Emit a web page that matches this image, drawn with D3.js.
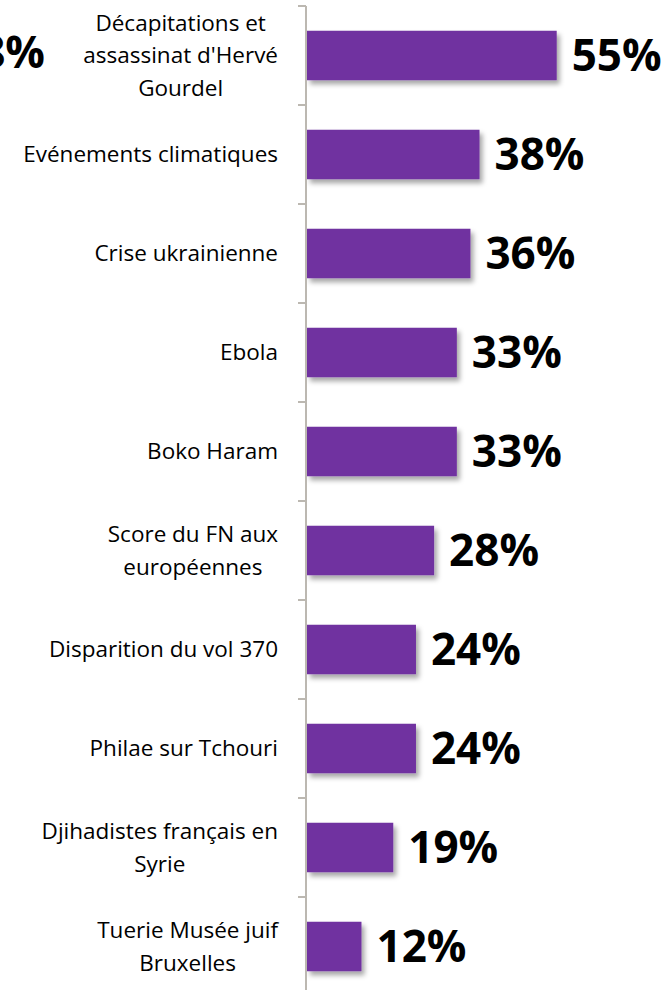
<!DOCTYPE html>
<html>
<head>
<meta charset="utf-8">
<script src="https://cdn.jsdelivr.net/npm/d3@7"></script>
<style>
  body { margin: 0; background: #fff; }
  .cat { font-family: "Open Sans", sans-serif; font-size: 22.5px; fill: #000; }
  .val { font-family: "Open Sans", sans-serif; font-size: 44px; font-weight: bold; fill: #000; }
  .axis-line { stroke: #bcb8b1; stroke-width: 2; }
</style>
</head>
<body>
<svg id="chart" width="670" height="990"></svg>
<script>
const categories = [
  ['Décapitations et', "assassinat d'Hervé", 'Gourdel'],
  ['Evénements climatiques'],
  ['Crise ukrainienne'],
  ['Ebola'],
  ['Boko Haram'],
  ['Score du FN aux', 'européennes'],
  ['Disparition du vol 370'],
  ['Philae sur Tchouri'],
  ['Djihadistes français en', 'Syrie'],
  ['Tuerie Musée juif', 'Bruxelles']
];
const values = [55, 38, 36, 33, 33, 28, 24, 24, 19, 12];
// fragment of the neighbouring chart that is cut off on the left
const strayLabel = '58%';

const margin = {top: 6, left: 306};

const svg = d3.select('#chart');

const defs = svg.append('defs');
const shadow = defs.append('filter').attr('id', 'shadow')
  .attr('x', '-10%').attr('y', '-10%').attr('width', '130%').attr('height', '150%');
shadow.append('feDropShadow')
  .attr('dx', 3).attr('dy', 4).attr('stdDeviation', 2.5)
  .attr('flood-color', '#000').attr('flood-opacity', 0.35);

const y = d3.scaleBand()
  .domain(d3.range(categories.length))
  .range([0, 99 * categories.length])
  .paddingInner(0.5)
  .paddingOuter(0.25);

const x = d3.scaleLinear().domain([0, 100]).range([0, 454]);

const g = svg.append('g').attr('transform', `translate(${margin.left}, ${margin.top})`);

// bars
g.selectAll('rect.bar')
  .data(values)
  .enter().append('rect')
  .attr('class', 'bar')
  .attr('x', 1)
  .attr('y', (d, i) => y(i))
  .attr('width', (d) => x(d))
  .attr('height', y.bandwidth())
  .attr('fill', '#7030a0')
  .attr('filter', 'url(#shadow)');

// axis: vertical line plus ticks on band boundaries
g.append('line')
  .attr('class', 'axis-line')
  .attr('x1', 0).attr('x2', 0)
  .attr('y1', 0).attr('y2', y.step() * categories.length);

g.selectAll('line.tick')
  .data(d3.range(categories.length + 1))
  .enter().append('line')
  .attr('class', 'axis-line tick')
  .attr('x1', -8).attr('x2', 0)
  .attr('y1', (d) => d * y.step())
  .attr('y2', (d) => d * y.step());

// value labels
g.selectAll('text.val')
  .data(values)
  .enter().append('text')
  .attr('class', 'val')
  .attr('x', (d) => x(d) + 16)
  .attr('y', (d, i) => y(i) + y.bandwidth() / 2)
  .attr('dy', '0.36em')
  .text((d) => d + '%');

// category labels: lines centred on each other, block right-aligned
const lineH = 32.5;
const labelRight = -28;
categories.forEach((lines, i) => {
  const t = g.append('text').attr('class', 'cat').attr('text-anchor', 'middle');
  const cy = y(i) + y.bandwidth() / 2;
  const spans = lines.map((l, j) => t.append('tspan')
    .attr('y', cy + (j - (lines.length - 1) / 2) * lineH)
    .attr('dy', '0.35em')
    .text(l));
  const maxW = d3.max(spans, (s) => s.node().getComputedTextLength());
  spans.forEach((s) => s.attr('x', labelRight - maxW / 2));
});

svg.append('text')
  .attr('class', 'val')
  .attr('x', 45)
  .attr('y', 52)
  .attr('dy', '0.36em')
  .attr('text-anchor', 'end')
  .text(strayLabel);
</script>
</body>
</html>
